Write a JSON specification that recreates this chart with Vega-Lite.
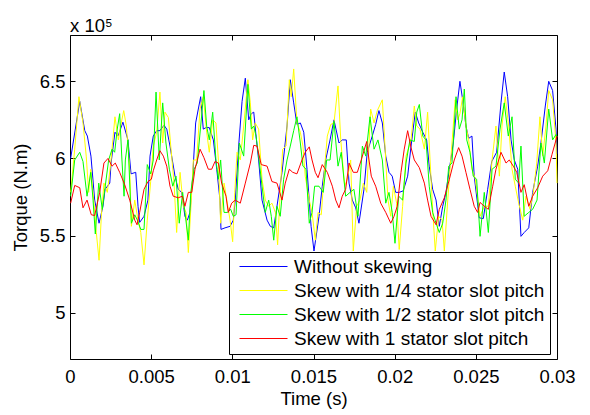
{
"$schema": "https://vega.github.io/schema/vega-lite/v6.json",
"width": 487, "height": 324,
"autosize": {"type": "none"},
"padding": {"left": 70, "top": 35, "right": 33, "bottom": 56},
"background": "white",
"title": {"text": "x 10⁵", "anchor": "start", "frame": "group", "fontSize": 18.5, "fontWeight": "normal", "font": "Liberation Sans", "color": "black", "baseline": "alphabetic", "offset": -16},
"config": {
  "font": "Liberation Sans",
  "view": {"stroke": "black", "strokeWidth": 1},
  "axis": {"grid": false, "domain": false, "labelFlush": false, "tickColor": "black", "tickSize": -5, "tickWidth": 1, "labelFontSize": 18.5, "labelColor": "black", "labelFont": "Liberation Sans", "titleFont": "Liberation Sans", "titleFontSize": 18.5, "titleFontWeight": "normal", "titleColor": "black"},
  "legend": {"title": null, "orient": "none", "legendX": 159, "legendY": 217, "fillColor": "white", "strokeColor": "black", "padding": 5, "symbolType": "stroke", "symbolSize": 2304, "symbolStrokeWidth": 1, "symbolOffset": 5, "labelOffset": 6, "labelFontSize": 19, "labelFont": "Liberation Sans", "labelColor": "black", "rowPadding": 4, "clipHeight": 19, "labelLimit": 400}
},
"datasets": {
"without": [{"t":0.00004,"v":600000},{"t":0.0006,"v":637000},{"t":0.00091,"v":618000},{"t":0.00107,"v":614500},{"t":0.00129,"v":601500},{"t":0.00152,"v":573000},{"t":0.00179,"v":558000},{"t":0.00203,"v":569000},{"t":0.00216,"v":580000},{"t":0.00245,"v":584000},{"t":0.00253,"v":597000},{"t":0.00277,"v":617000},{"t":0.00296,"v":614500},{"t":0.00326,"v":623500},{"t":0.00357,"v":612000},{"t":0.00376,"v":590000},{"t":0.00405,"v":591000},{"t":0.00419,"v":569000},{"t":0.00429,"v":558500},{"t":0.00456,"v":562500},{"t":0.0048,"v":573000},{"t":0.00493,"v":601500},{"t":0.00513,"v":614500},{"t":0.00534,"v":618000},{"t":0.00554,"v":618000},{"t":0.00579,"v":621500},{"t":0.00596,"v":619000},{"t":0.00616,"v":608000},{"t":0.00647,"v":588500},{"t":0.00667,"v":580000},{"t":0.00688,"v":578000},{"t":0.00708,"v":562500},{"t":0.00723,"v":560000},{"t":0.00739,"v":565000},{"t":0.00756,"v":588500},{"t":0.00774,"v":623000},{"t":0.00805,"v":640000},{"t":0.00821,"v":619000},{"t":0.00838,"v":620000},{"t":0.00858,"v":620000},{"t":0.00883,"v":612000},{"t":0.00904,"v":593000},{"t":0.00924,"v":573000},{"t":0.0093,"v":554000},{"t":0.00955,"v":555000},{"t":0.00986,"v":556000},{"t":0.01006,"v":560000},{"t":0.01018,"v":573000},{"t":0.01039,"v":608000},{"t":0.0106,"v":637000},{"t":0.0108,"v":652000},{"t":0.01101,"v":625000},{"t":0.01117,"v":629000},{"t":0.01132,"v":630000},{"t":0.01146,"v":614500},{"t":0.01162,"v":599000},{"t":0.01183,"v":573000},{"t":0.01214,"v":560000},{"t":0.01234,"v":556000},{"t":0.01255,"v":555000},{"t":0.01275,"v":569000},{"t":0.01306,"v":591000},{"t":0.01337,"v":621000},{"t":0.01357,"v":651000},{"t":0.01378,"v":636000},{"t":0.01398,"v":622000},{"t":0.01419,"v":623000},{"t":0.0144,"v":617000},{"t":0.0146,"v":593000},{"t":0.01485,"v":556000},{"t":0.01503,"v":540000},{"t":0.01534,"v":562500},{"t":0.01554,"v":582000},{"t":0.01575,"v":599000},{"t":0.01602,"v":612000},{"t":0.01626,"v":625000},{"t":0.01657,"v":610000},{"t":0.01677,"v":612000},{"t":0.01702,"v":612000},{"t":0.01719,"v":584000},{"t":0.01739,"v":573000},{"t":0.0176,"v":568000},{"t":0.0178,"v":558000},{"t":0.01811,"v":580000},{"t":0.01831,"v":604000},{"t":0.01862,"v":614500},{"t":0.01883,"v":622000},{"t":0.01903,"v":631000},{"t":0.01924,"v":623000},{"t":0.01945,"v":601500},{"t":0.01965,"v":591000},{"t":0.01985,"v":588500},{"t":0.02006,"v":578000},{"t":0.02028,"v":578000},{"t":0.02053,"v":579000},{"t":0.0208,"v":588500},{"t":0.02101,"v":608000},{"t":0.02127,"v":630000},{"t":0.02148,"v":623000},{"t":0.02173,"v":617000},{"t":0.02197,"v":612000},{"t":0.02213,"v":595000},{"t":0.02234,"v":580000},{"t":0.02255,"v":573000},{"t":0.02275,"v":556000},{"t":0.02296,"v":569000},{"t":0.02316,"v":578000},{"t":0.02337,"v":593000},{"t":0.02361,"v":610000},{"t":0.02382,"v":632000},{"t":0.02402,"v":650000},{"t":0.02419,"v":638000},{"t":0.02439,"v":621000},{"t":0.02456,"v":613000},{"t":0.02476,"v":614500},{"t":0.0249,"v":588500},{"t":0.02521,"v":561500},{"t":0.02546,"v":561000},{"t":0.02573,"v":580000},{"t":0.02598,"v":598000},{"t":0.02628,"v":604000},{"t":0.02655,"v":636000},{"t":0.02675,"v":656000},{"t":0.02696,"v":640000},{"t":0.02717,"v":612000},{"t":0.02737,"v":599000},{"t":0.02758,"v":593000},{"t":0.02778,"v":549500},{"t":0.02798,"v":552000},{"t":0.02826,"v":555000},{"t":0.0285,"v":578000},{"t":0.02881,"v":595000},{"t":0.02901,"v":610000},{"t":0.02928,"v":634000},{"t":0.02949,"v":650000},{"t":0.02973,"v":644000},{"t":0.02994,"v":619000},{"t":0.03,"v":603000}],
"quarter": [{"t":0.00004,"v":578000},{"t":0.00029,"v":606000},{"t":0.00055,"v":640000},{"t":0.0008,"v":623000},{"t":0.001,"v":601500},{"t":0.00115,"v":578000},{"t":0.00128,"v":593000},{"t":0.00148,"v":571000},{"t":0.00162,"v":552000},{"t":0.00179,"v":534000},{"t":0.00193,"v":562500},{"t":0.00209,"v":584000},{"t":0.0023,"v":578000},{"t":0.00251,"v":597000},{"t":0.00277,"v":627000},{"t":0.00298,"v":612000},{"t":0.00312,"v":621000},{"t":0.00331,"v":631000},{"t":0.00347,"v":621000},{"t":0.00368,"v":593000},{"t":0.00378,"v":556000},{"t":0.00399,"v":573000},{"t":0.00415,"v":562500},{"t":0.00436,"v":552000},{"t":0.00456,"v":531000},{"t":0.00476,"v":560000},{"t":0.00497,"v":585000},{"t":0.00513,"v":608000},{"t":0.00534,"v":617000},{"t":0.00554,"v":643000},{"t":0.00571,"v":610000},{"t":0.00585,"v":630000},{"t":0.00606,"v":626500},{"t":0.00626,"v":601500},{"t":0.00641,"v":584000},{"t":0.00657,"v":552000},{"t":0.00678,"v":591000},{"t":0.00698,"v":569000},{"t":0.00715,"v":565000},{"t":0.00729,"v":539000},{"t":0.00744,"v":567000},{"t":0.0076,"v":599000},{"t":0.0078,"v":599000},{"t":0.00801,"v":632000},{"t":0.00821,"v":640000},{"t":0.00842,"v":617000},{"t":0.00858,"v":604000},{"t":0.00879,"v":625000},{"t":0.00899,"v":623000},{"t":0.00914,"v":599000},{"t":0.00928,"v":558000},{"t":0.00949,"v":584000},{"t":0.00969,"v":571000},{"t":0.00986,"v":560000},{"t":0.01002,"v":546000},{"t":0.01015,"v":578000},{"t":0.01029,"v":604000},{"t":0.01049,"v":599000},{"t":0.0107,"v":621000},{"t":0.01096,"v":651000},{"t":0.01111,"v":636000},{"t":0.01125,"v":612000},{"t":0.01141,"v":623000},{"t":0.01162,"v":619000},{"t":0.01183,"v":586500},{"t":0.01203,"v":573000},{"t":0.01224,"v":569000},{"t":0.01244,"v":571000},{"t":0.01265,"v":565000},{"t":0.01279,"v":544000},{"t":0.01295,"v":578000},{"t":0.0131,"v":606000},{"t":0.01331,"v":608000},{"t":0.01351,"v":651000},{"t":0.01363,"v":640000},{"t":0.01378,"v":658000},{"t":0.01398,"v":623000},{"t":0.01419,"v":617000},{"t":0.01435,"v":608000},{"t":0.01449,"v":588500},{"t":0.01474,"v":573000},{"t":0.01491,"v":565000},{"t":0.01511,"v":547000},{"t":0.01528,"v":565000},{"t":0.01548,"v":563500},{"t":0.01569,"v":595000},{"t":0.01585,"v":614500},{"t":0.01606,"v":622000},{"t":0.01626,"v":623000},{"t":0.01651,"v":647000},{"t":0.01668,"v":612000},{"t":0.01692,"v":582000},{"t":0.01708,"v":586500},{"t":0.01729,"v":599000},{"t":0.01745,"v":540000},{"t":0.01766,"v":569000},{"t":0.01786,"v":573000},{"t":0.01807,"v":584000},{"t":0.01828,"v":578000},{"t":0.01852,"v":632000},{"t":0.01873,"v":623000},{"t":0.01893,"v":631000},{"t":0.01924,"v":638000},{"t":0.01945,"v":599000},{"t":0.01959,"v":573000},{"t":0.01976,"v":562500},{"t":0.01992,"v":582000},{"t":0.02012,"v":571000},{"t":0.02028,"v":541000},{"t":0.02049,"v":569000},{"t":0.0207,"v":601500},{"t":0.02101,"v":612000},{"t":0.02121,"v":634000},{"t":0.02136,"v":621000},{"t":0.02156,"v":619000},{"t":0.02183,"v":606000},{"t":0.02203,"v":630000},{"t":0.02218,"v":599000},{"t":0.02234,"v":567000},{"t":0.0225,"v":540000},{"t":0.02271,"v":562500},{"t":0.02292,"v":560000},{"t":0.02306,"v":540000},{"t":0.02327,"v":573000},{"t":0.02347,"v":601500},{"t":0.02373,"v":638000},{"t":0.02388,"v":625000},{"t":0.02402,"v":629000},{"t":0.02419,"v":640000},{"t":0.02439,"v":621000},{"t":0.02456,"v":612000},{"t":0.02476,"v":593000},{"t":0.02497,"v":586500},{"t":0.02518,"v":569000},{"t":0.02526,"v":562500},{"t":0.02552,"v":569000},{"t":0.02577,"v":569000},{"t":0.026,"v":599000},{"t":0.02624,"v":621000},{"t":0.02645,"v":588500},{"t":0.02661,"v":621000},{"t":0.02681,"v":640000},{"t":0.02702,"v":621000},{"t":0.02723,"v":593000},{"t":0.02743,"v":582000},{"t":0.02764,"v":571000},{"t":0.02789,"v":560000},{"t":0.02809,"v":575500},{"t":0.02834,"v":567000},{"t":0.02854,"v":578000},{"t":0.02875,"v":597000},{"t":0.02895,"v":627000},{"t":0.02912,"v":601500},{"t":0.02932,"v":621000},{"t":0.02949,"v":644000},{"t":0.02973,"v":638000},{"t":0.02994,"v":610000},{"t":0.03,"v":584000}],
"half": [{"t":0.00004,"v":575500},{"t":0.00029,"v":599000},{"t":0.0006,"v":604000},{"t":0.0008,"v":598000},{"t":0.00105,"v":575500},{"t":0.00128,"v":591000},{"t":0.00142,"v":573000},{"t":0.00156,"v":551000},{"t":0.00177,"v":584000},{"t":0.00199,"v":567000},{"t":0.00217,"v":582000},{"t":0.00238,"v":599000},{"t":0.00259,"v":606000},{"t":0.00275,"v":604000},{"t":0.00291,"v":619000},{"t":0.00306,"v":629000},{"t":0.0032,"v":599000},{"t":0.00333,"v":575500},{"t":0.00341,"v":599000},{"t":0.00357,"v":612000},{"t":0.00378,"v":558000},{"t":0.00399,"v":563500},{"t":0.00415,"v":560000},{"t":0.00436,"v":554000},{"t":0.00456,"v":554000},{"t":0.00476,"v":596000},{"t":0.00497,"v":590000},{"t":0.00513,"v":599000},{"t":0.0053,"v":643000},{"t":0.0055,"v":599000},{"t":0.00571,"v":636000},{"t":0.00591,"v":610000},{"t":0.00612,"v":593000},{"t":0.00633,"v":582000},{"t":0.00653,"v":588500},{"t":0.00673,"v":558000},{"t":0.00694,"v":578000},{"t":0.00708,"v":565000},{"t":0.00729,"v":547000},{"t":0.00744,"v":578000},{"t":0.00764,"v":593000},{"t":0.00784,"v":597000},{"t":0.00805,"v":621000},{"t":0.00825,"v":644000},{"t":0.00842,"v":621000},{"t":0.00858,"v":612000},{"t":0.00879,"v":630000},{"t":0.00899,"v":599000},{"t":0.00914,"v":586500},{"t":0.00928,"v":599000},{"t":0.00949,"v":565000},{"t":0.00969,"v":565000},{"t":0.0099,"v":567000},{"t":0.01006,"v":562500},{"t":0.01023,"v":563500},{"t":0.01043,"v":610000},{"t":0.0107,"v":601500},{"t":0.01096,"v":648000},{"t":0.01117,"v":619000},{"t":0.01132,"v":621000},{"t":0.01146,"v":614500},{"t":0.01162,"v":601500},{"t":0.01183,"v":582000},{"t":0.01203,"v":565000},{"t":0.01224,"v":573000},{"t":0.0124,"v":562500},{"t":0.01255,"v":547000},{"t":0.01275,"v":569000},{"t":0.01295,"v":562500},{"t":0.01316,"v":586500},{"t":0.01337,"v":599000},{"t":0.01357,"v":608000},{"t":0.01378,"v":618000},{"t":0.01398,"v":627000},{"t":0.01419,"v":610000},{"t":0.01435,"v":595000},{"t":0.01454,"v":593000},{"t":0.01474,"v":558000},{"t":0.01491,"v":565000},{"t":0.01507,"v":582000},{"t":0.01534,"v":582000},{"t":0.0156,"v":578000},{"t":0.01581,"v":599000},{"t":0.01602,"v":599000},{"t":0.01626,"v":624000},{"t":0.01651,"v":595000},{"t":0.01671,"v":604000},{"t":0.01698,"v":575500},{"t":0.01725,"v":578000},{"t":0.01749,"v":580000},{"t":0.01774,"v":562500},{"t":0.01801,"v":608000},{"t":0.01822,"v":601500},{"t":0.01848,"v":627000},{"t":0.01873,"v":606000},{"t":0.01897,"v":612000},{"t":0.01924,"v":599000},{"t":0.01945,"v":571000},{"t":0.01965,"v":578000},{"t":0.01985,"v":565000},{"t":0.02002,"v":545000},{"t":0.02025,"v":575500},{"t":0.02049,"v":573000},{"t":0.0207,"v":597000},{"t":0.02094,"v":612000},{"t":0.02121,"v":611000},{"t":0.02136,"v":630000},{"t":0.02152,"v":635000},{"t":0.02173,"v":614500},{"t":0.02193,"v":612000},{"t":0.02213,"v":582000},{"t":0.02234,"v":565000},{"t":0.02255,"v":558000},{"t":0.02275,"v":552000},{"t":0.02296,"v":558000},{"t":0.02316,"v":573000},{"t":0.02333,"v":595000},{"t":0.02353,"v":597000},{"t":0.02378,"v":640000},{"t":0.02398,"v":619000},{"t":0.02415,"v":625000},{"t":0.02429,"v":645000},{"t":0.02444,"v":612000},{"t":0.02464,"v":604000},{"t":0.02484,"v":588500},{"t":0.02505,"v":586500},{"t":0.02526,"v":549500},{"t":0.02552,"v":578000},{"t":0.02577,"v":552000},{"t":0.026,"v":593000},{"t":0.02624,"v":595000},{"t":0.02649,"v":619000},{"t":0.02675,"v":636000},{"t":0.027,"v":614500},{"t":0.02723,"v":627000},{"t":0.02743,"v":586500},{"t":0.02764,"v":584000},{"t":0.02778,"v":608000},{"t":0.02798,"v":562500},{"t":0.02826,"v":565000},{"t":0.0285,"v":567000},{"t":0.02877,"v":573000},{"t":0.02901,"v":610000},{"t":0.02922,"v":597000},{"t":0.02949,"v":632000},{"t":0.02973,"v":612000},{"t":0.02994,"v":615500},{"t":0.03,"v":614000}],
"one": [{"t":0.00004,"v":571000},{"t":0.00029,"v":582500},{"t":0.0006,"v":581000},{"t":0.0008,"v":568000},{"t":0.00105,"v":573000},{"t":0.00131,"v":563500},{"t":0.00152,"v":563000},{"t":0.00183,"v":578000},{"t":0.00209,"v":597000},{"t":0.00234,"v":600000},{"t":0.00259,"v":595000},{"t":0.00279,"v":597000},{"t":0.00306,"v":591000},{"t":0.00337,"v":583000},{"t":0.00368,"v":573000},{"t":0.00399,"v":560000},{"t":0.00413,"v":557000},{"t":0.00429,"v":565000},{"t":0.00456,"v":580000},{"t":0.0048,"v":585000},{"t":0.00501,"v":586500},{"t":0.00513,"v":592000},{"t":0.00534,"v":599000},{"t":0.00554,"v":605000},{"t":0.00575,"v":601500},{"t":0.00596,"v":595000},{"t":0.00616,"v":582000},{"t":0.00636,"v":575500},{"t":0.00667,"v":574500},{"t":0.00692,"v":575500},{"t":0.00708,"v":569000},{"t":0.00729,"v":578000},{"t":0.0075,"v":578000},{"t":0.0077,"v":593000},{"t":0.00801,"v":606000},{"t":0.00825,"v":600500},{"t":0.00852,"v":593000},{"t":0.00873,"v":593000},{"t":0.00893,"v":598000},{"t":0.00914,"v":597000},{"t":0.00934,"v":584000},{"t":0.00961,"v":575500},{"t":0.00975,"v":565000},{"t":0.00996,"v":571000},{"t":0.01018,"v":573000},{"t":0.01049,"v":571000},{"t":0.0108,"v":584000},{"t":0.01111,"v":597000},{"t":0.01132,"v":608500},{"t":0.01152,"v":608000},{"t":0.01178,"v":596000},{"t":0.01214,"v":595000},{"t":0.01244,"v":585000},{"t":0.01275,"v":584000},{"t":0.01306,"v":573000},{"t":0.01326,"v":584000},{"t":0.01351,"v":593000},{"t":0.01372,"v":591000},{"t":0.01398,"v":590000},{"t":0.01429,"v":599000},{"t":0.01449,"v":604000},{"t":0.01474,"v":607500},{"t":0.01491,"v":599000},{"t":0.01511,"v":591000},{"t":0.01528,"v":587500},{"t":0.01554,"v":596000},{"t":0.01585,"v":591000},{"t":0.01616,"v":582000},{"t":0.01637,"v":573000},{"t":0.01657,"v":568000},{"t":0.01677,"v":575500},{"t":0.01698,"v":580000},{"t":0.01719,"v":597000},{"t":0.01745,"v":591000},{"t":0.0177,"v":591000},{"t":0.01794,"v":599000},{"t":0.01828,"v":611000},{"t":0.01842,"v":599000},{"t":0.01856,"v":588500},{"t":0.01883,"v":582000},{"t":0.01914,"v":571000},{"t":0.01945,"v":565000},{"t":0.01976,"v":558000},{"t":0.01996,"v":562500},{"t":0.02016,"v":569000},{"t":0.02039,"v":591000},{"t":0.02059,"v":606000},{"t":0.0208,"v":618000},{"t":0.02101,"v":607000},{"t":0.02121,"v":599000},{"t":0.02152,"v":594000},{"t":0.02183,"v":584000},{"t":0.02203,"v":573000},{"t":0.02224,"v":562500},{"t":0.02255,"v":557000},{"t":0.02275,"v":567000},{"t":0.02306,"v":574500},{"t":0.02337,"v":586500},{"t":0.02367,"v":599000},{"t":0.02394,"v":607000},{"t":0.02415,"v":601500},{"t":0.02439,"v":591000},{"t":0.02464,"v":580000},{"t":0.0249,"v":569000},{"t":0.02511,"v":565000},{"t":0.02526,"v":571500},{"t":0.02552,"v":569000},{"t":0.02577,"v":567000},{"t":0.02604,"v":582000},{"t":0.02624,"v":593000},{"t":0.02655,"v":604000},{"t":0.02686,"v":597000},{"t":0.02706,"v":599000},{"t":0.02731,"v":595000},{"t":0.02752,"v":591000},{"t":0.02778,"v":578000},{"t":0.02798,"v":583000},{"t":0.02826,"v":569000},{"t":0.0285,"v":575500},{"t":0.02881,"v":581000},{"t":0.02912,"v":588500},{"t":0.02943,"v":592000},{"t":0.02969,"v":602500},{"t":0.02994,"v":612000},{"t":0.03,"v":614500}]
},
"layer": [
  {
    "encoding": {
      "x": {"field": "t", "type": "quantitative", "scale": {"domain": [0, 0.03], "nice": false, "zero": false}, "axis": {"orient": "bottom", "values": [0, 0.005, 0.01, 0.015, 0.02, 0.025, 0.03], "labelExpr": "'' + datum.value", "labelPadding": 13, "title": "Time (s)", "titlePadding": 4}},
      "y": {"field": "v", "type": "quantitative", "scale": {"domain": [470000, 680000], "nice": false, "zero": false}, "axis": {"orient": "left", "values": [500000, 550000, 600000, 650000], "labelExpr": "'' + datum.value / 100000", "labelPadding": 10, "title": "Torque (N.m)", "titlePadding": 9}}
    },
    "layer": [
      {"data": {"name": "without"}, "mark": {"type": "line", "strokeWidth": 1}, "encoding": {"color": {"datum": "Without skewing", "type": "nominal", "scale": {"domain": ["Without skewing", "Skew with 1/4 stator slot pitch", "Skew with 1/2 stator slot pitch", "Skew with 1 stator slot pitch"], "range": ["#0000ff", "#ffff00", "#00ff00", "#ff0000"]}}}},
      {"data": {"name": "quarter"}, "mark": {"type": "line", "strokeWidth": 1}, "encoding": {"color": {"datum": "Skew with 1/4 stator slot pitch", "type": "nominal"}}},
      {"data": {"name": "half"}, "mark": {"type": "line", "strokeWidth": 1}, "encoding": {"color": {"datum": "Skew with 1/2 stator slot pitch", "type": "nominal"}}},
      {"data": {"name": "one"}, "mark": {"type": "line", "strokeWidth": 1}, "encoding": {"color": {"datum": "Skew with 1 stator slot pitch", "type": "nominal"}}}
    ]
  },
  {
    "data": {"name": "one"},
    "mark": {"type": "point", "opacity": 0},
    "encoding": {
      "x": {"field": "t", "type": "quantitative", "axis": {"orient": "top", "values": [0, 0.005, 0.01, 0.015, 0.02, 0.025, 0.03], "labels": false, "title": null}},
      "y": {"field": "v", "type": "quantitative", "axis": {"orient": "right", "values": [500000, 550000, 600000, 650000], "labels": false, "title": null}}
    }
  }
],
"resolve": {"axis": {"x": "independent", "y": "independent"}}
}
